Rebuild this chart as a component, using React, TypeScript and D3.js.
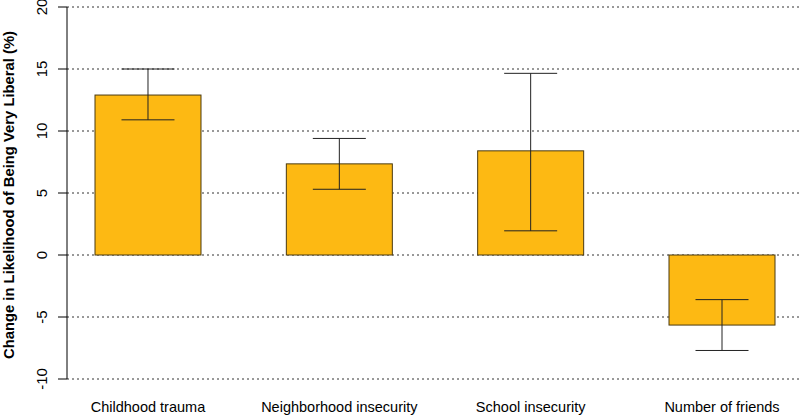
import { scaleBand, scaleLinear } from "d3";

const categories = ["Childhood trauma", "Neighborhood insecurity", "School insecurity", "Number of friends"];
const values = [12.9, 7.35, 8.4, -5.65];
const lower = [10.9, 5.3, 1.95, -7.7];
const upper = [15.0, 9.4, 14.65, -3.6];
const yTicks = [-10, -5, 0, 5, 10, 15, 20];

const WIDTH = 800;
const HEIGHT = 415;
const MARGINS = { top: 7, right: 0, bottom: 36, left: 67 };

const App = () => {
  const yScale = scaleLinear()
    .domain([-10, 20])
    .range([HEIGHT - MARGINS.bottom, MARGINS.top]);
  // bars sit inside the plot with a little gap at each side
  const xScale = scaleBand<string>()
    .domain(categories)
    .range([MARGINS.left + 28, WIDTH - 25])
    .paddingInner(0.446)
    .paddingOuter(0);
  const bw = xScale.bandwidth();

  return (
    <svg
      width={WIDTH}
      height={HEIGHT}
      style={{ position: "absolute", left: 0, top: 0, background: "white" }}
      fontFamily="Liberation Sans, Arial, sans-serif"
    >
      {/* dotted grid */}
      {yTicks.map((t) => (
        <line
          key={`g${t}`}
          x1={MARGINS.left}
          x2={WIDTH}
          y1={yScale(t)}
          y2={yScale(t)}
          stroke="#333"
          strokeWidth={1}
          strokeDasharray="2,3"
        />
      ))}

      {/* bars */}
      {categories.map((c, i) => (
        <rect
          key={c}
          x={xScale(c)}
          y={yScale(Math.max(0, values[i]))}
          width={bw}
          height={Math.abs(yScale(values[i]) - yScale(0))}
          fill="#FDB913"
          stroke="#4a3a10"
          strokeWidth={1}
        />
      ))}

      {/* error bars */}
      {categories.map((c, i) => {
        const cx = (xScale(c) as number) + bw / 2;
        const cap = bw / 4;
        return (
          <g key={`e${c}`} stroke="#222" strokeWidth={1}>
            <line x1={cx} x2={cx} y1={yScale(upper[i])} y2={yScale(lower[i])} />
            <line x1={cx - cap} x2={cx + cap} y1={yScale(upper[i])} y2={yScale(upper[i])} />
            <line x1={cx - cap} x2={cx + cap} y1={yScale(lower[i])} y2={yScale(lower[i])} />
          </g>
        );
      })}

      {/* y axis */}
      <line x1={MARGINS.left} x2={MARGINS.left} y1={yScale(-10)} y2={yScale(20)} stroke="#000" />
      {yTicks.map((t) => (
        <g key={`t${t}`}>
          <line x1={MARGINS.left - 9} x2={MARGINS.left} y1={yScale(t)} y2={yScale(t)} stroke="#000" />
          <text
            transform={`translate(${MARGINS.left - 20}, ${yScale(t)}) rotate(-90)`}
            textAnchor="middle"
            fontSize={15}
            fill="#000"
          >
            {t}
          </text>
        </g>
      ))}
      <text
        transform={`translate(14, ${yScale(5) + 2}) rotate(-90)`}
        textAnchor="middle"
        fontSize={14.8}
        fontWeight="bold"
        fill="#000"
      >
        Change in Likelihood of Being Very Liberal (%)
      </text>

      {/* category labels */}
      {categories.map((c) => (
        <text
          key={`l${c}`}
          x={(xScale(c) as number) + bw / 2}
          y={412}
          textAnchor="middle"
          fontSize={14.5}
          fill="#000"
        >
          {c}
        </text>
      ))}
    </svg>
  );
};

export default App;
